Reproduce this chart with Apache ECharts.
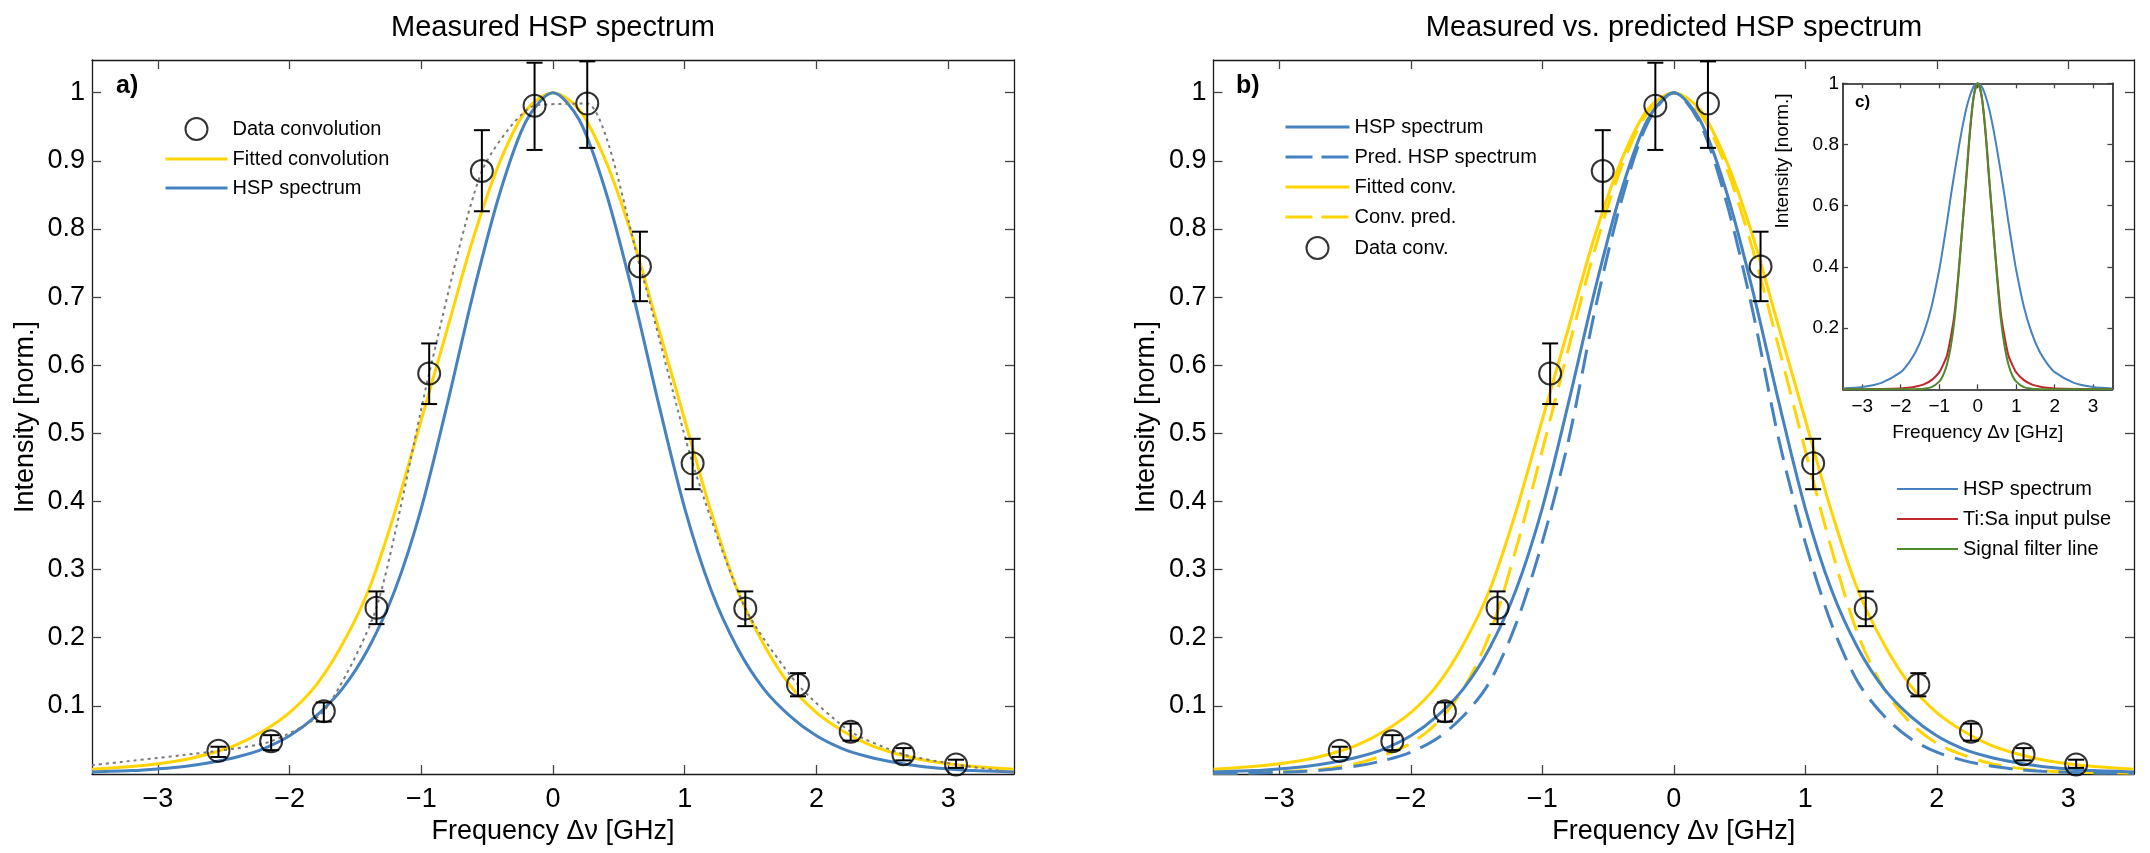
<!DOCTYPE html>
<html><head><meta charset="utf-8">
<script src="https://cdn.jsdelivr.net/npm/echarts@6/dist/echarts.min.js"></script>
<style>html,body{margin:0;padding:0;background:#fff}#c{width:2150px;height:853px}</style>
</head><body><div id="c"></div>
<script>
const FONT = '"Liberation Sans", Arial, Helvetica, sans-serif';

// ---- tick labels ----
const xTicks = [-3, -2, -1, 0, 1, 2, 3];
const yTicks = [0.1, 0.2, 0.3, 0.4, 0.5, 0.6, 0.7, 0.8, 0.9, 1];
const insetYTicks = [0.2, 0.4, 0.6, 0.8, 1];

// ---- measured data (convolution) ----
const dataX   = [-2.54, -2.14, -1.74, -1.34, -0.94, -0.54, -0.14, 0.26, 0.66, 1.06, 1.46, 1.86, 2.26, 2.66, 3.06];
const dataY   = [0.034, 0.048, 0.092, 0.244, 0.588, 0.885, 0.981, 0.984, 0.745, 0.456, 0.243, 0.131, 0.062, 0.029, 0.014];
const errLow  = [0.025, 0.035, 0.077, 0.220, 0.543, 0.826, 0.916, 0.919, 0.694, 0.418, 0.217, 0.114, 0.049, 0.020, 0.009];
const errHigh = [0.040, 0.057, 0.105, 0.268, 0.632, 0.945, 1.044, 1.046, 0.796, 0.492, 0.268, 0.148, 0.074, 0.038, 0.021];
// end points of the dotted interpolation
const dottedEndX = [-3.5, 3.5];
const dottedEndY = [0.013, 0.002];

// ---- model curves (main plots) ----
const curveX = [-3.5,-3.2,-3.0,-2.8,-2.6,-2.4,-2.2,-2.0,-1.8,-1.6,-1.4,-1.2,-1.0,-0.8,-0.6,-0.4,-0.2,0,0.2,0.4,0.6,0.8,1.0,1.2,1.4,1.6,1.8,2.0,2.2,2.4,2.6,2.8,3.0,3.2,3.5];
const hspSpectrum = [0.003,0.005,0.0075,0.011,0.017,0.025,0.037,0.056,0.085,0.125,0.185,0.27,0.39,0.545,0.71,0.855,0.96,1,0.96,0.855,0.71,0.545,0.39,0.27,0.185,0.125,0.085,0.056,0.037,0.025,0.017,0.011,0.0075,0.005,0.003];
const fittedConv  = [0.007,0.011,0.015,0.021,0.03,0.043,0.063,0.09,0.13,0.19,0.27,0.385,0.52,0.655,0.79,0.9,0.975,1,0.975,0.9,0.79,0.655,0.52,0.385,0.27,0.19,0.13,0.09,0.063,0.043,0.03,0.021,0.015,0.011,0.007];
const predHsp     = [0.001,0.0015,0.0025,0.004,0.007,0.012,0.02,0.032,0.052,0.085,0.135,0.22,0.34,0.49,0.68,0.84,0.955,1,0.955,0.84,0.68,0.49,0.34,0.22,0.135,0.085,0.052,0.032,0.02,0.012,0.007,0.004,0.0025,0.0015,0.001];
const convPred    = [0.001,0.002,0.003,0.005,0.009,0.016,0.028,0.045,0.075,0.125,0.205,0.33,0.475,0.625,0.77,0.89,0.97,1,0.97,0.89,0.77,0.625,0.475,0.33,0.205,0.125,0.075,0.045,0.028,0.016,0.009,0.005,0.003,0.002,0.001];

// ---- inset curves ----
const insetX = [-3.5,-3,-2.5,-2,-1.8,-1.6,-1.4,-1.2,-1,-0.9,-0.8,-0.7,-0.6,-0.5,-0.4,-0.3,-0.2,-0.1,0,0.1,0.2,0.3,0.4,0.5,0.6,0.7,0.8,0.9,1,1.2,1.4,1.6,1.8,2,2.5,3,3.5];
const insetHsp   = [0.003,0.0075,0.021,0.056,0.085,0.125,0.185,0.27,0.39,0.465,0.545,0.63,0.71,0.785,0.855,0.915,0.96,0.99,1,0.99,0.96,0.915,0.855,0.785,0.71,0.63,0.545,0.465,0.39,0.27,0.185,0.125,0.085,0.056,0.021,0.0075,0.003];
const tisaPulse  = [0,0.0005,0.001,0.003,0.005,0.009,0.016,0.03,0.055,0.08,0.11,0.17,0.25,0.38,0.53,0.68,0.84,0.96,1,0.96,0.84,0.68,0.53,0.38,0.25,0.17,0.11,0.08,0.055,0.03,0.016,0.009,0.005,0.003,0.001,0.0005,0];
const filterLine = [0,0,0,0,0,0.0005,0.002,0.007,0.025,0.045,0.08,0.14,0.23,0.37,0.53,0.69,0.85,0.96,1,0.96,0.85,0.69,0.53,0.37,0.23,0.14,0.08,0.045,0.025,0.007,0.002,0.0005,0,0,0,0,0];

// ---- colours ----
const BLUE = '#4682C0', YELLOW = '#FFD400', RED = '#C0272D', GREEN = '#4F8A2C', GRAY = '#7a7a7a';
const DASH = [24, 11];

const pairs = (xs, ys) => xs.map((x, i) => [x, ys[i]]);
const fmtX = v => String(v).replace('-', '\u2212');
const fmtY = v => String(Math.round(v * 10) / 10);

const mainGrids = [
  {left: 92, top: 60, width: 922, height: 714},
  {left: 1213.5, top: 60, width: 920.5, height: 714}
];
const insetGrid = {left: 1843, top: 83.3, width: 269.4, height: 306, show: true, backgroundColor: '#fff', borderWidth: 0};

function xAxes(gi, main) {
  const fs = main ? 27 : 19;
  const tl = main ? 9 : 5;
  const axisLine = {show: true, onZero: false, lineStyle: {color: '#1a1a1a', width: main ? 1.3 : 1.6}};
  const tick = {show: true, inside: true, length: tl, customValues: xTicks, lineStyle: {color: '#444', width: 1.3}};
  return [
    {type: 'value', gridIndex: gi, position: 'bottom', min: -3.5, max: 3.5, splitLine: {show: false},
     axisLine, axisTick: tick,
     axisLabel: {customValues: xTicks, formatter: fmtX, fontSize: fs, fontFamily: FONT, color: '#000', margin: main ? 12 : 8},
     name: 'Frequency \u0394\u03bd [GHz]', nameLocation: 'middle', nameGap: main ? 41 : 34,
     nameTextStyle: {fontSize: fs, fontFamily: FONT, color: '#000'}},
    {type: 'value', gridIndex: gi, position: 'top', min: -3.5, max: 3.5, splitLine: {show: false},
     axisLine, axisTick: tick, axisLabel: {show: false}}
  ];
}
function yAxes(gi, main) {
  const fs = main ? 27 : 19;
  const tl = main ? 9 : 5;
  const ticks = main ? yTicks : insetYTicks;
  const axisLine = {show: true, onZero: false, lineStyle: {color: '#1a1a1a', width: main ? 1.3 : 1.6}};
  const tick = {show: true, inside: true, length: tl, customValues: ticks, lineStyle: {color: '#444', width: 1.3}};
  const left = {type: 'value', gridIndex: gi, position: 'left', min: 0, max: main ? 1.048 : 1, splitLine: {show: false},
     axisLine, axisTick: tick,
     axisLabel: {customValues: ticks, formatter: fmtY, fontSize: fs, fontFamily: FONT, color: '#000', margin: main ? 7 : 4}};
  if (main) {
    left.name = 'Intensity [norm.]';
    left.nameLocation = 'middle';
    left.nameGap = 53;
    left.nameTextStyle = {fontSize: fs, fontFamily: FONT, color: '#000'};
  }
  return [
    left,
    {type: 'value', gridIndex: gi, position: 'right', min: 0, max: main ? 1.048 : 1, splitLine: {show: false},
     axisLine, axisTick: tick, axisLabel: {show: false}}
  ];
}

function renderErr(params, api) {
  const x = api.value(0), lo = api.value(1), hi = api.value(2);
  const a = api.coord([x, lo]), b = api.coord([x, hi]);
  const hw = 8, st = {stroke: '#000', lineWidth: 2};
  return {type: 'group', children: [
    {type: 'line', shape: {x1: a[0], y1: a[1], x2: b[0], y2: b[1]}, style: st},
    {type: 'line', shape: {x1: a[0] - hw, y1: a[1], x2: a[0] + hw, y2: a[1]}, style: st},
    {type: 'line', shape: {x1: b[0] - hw, y1: b[1], x2: b[0] + hw, y2: b[1]}, style: st}
  ]};
}
const errData = dataX.map((x, i) => [x, errLow[i], errHigh[i]]);

function lineSeries(name, xs, ys, color, width, type, xi, yi, z, smooth) {
  return {type: 'line', name, data: pairs(xs, ys), xAxisIndex: xi, yAxisIndex: yi,
    symbol: 'none', smooth: smooth == null ? 0.3 : smooth,
    lineStyle: {color, width, type: type || 'solid'},
    itemStyle: {color, opacity: 0, borderWidth: 0},
    z: z || 2, silent: true};
}
function errSeries(xi, yi) {
  return {type: 'custom', name: 'err' + xi, renderItem: renderErr, data: errData,
    encode: {x: 0, y: [1, 2]}, xAxisIndex: xi, yAxisIndex: yi, z: 5, silent: true};
}
function dataSeries(name, xi, yi) {
  return {type: 'scatter', name, data: pairs(dataX, dataY), xAxisIndex: xi, yAxisIndex: yi,
    symbol: 'circle', symbolSize: 22,
    itemStyle: {color: 'rgba(0,0,0,0)', borderColor: '#000', borderWidth: 2}, z: 6, silent: true};
}

const dottedX = [dottedEndX[0]].concat(dataX, [dottedEndX[1]]);
const dottedY = [dottedEndY[0]].concat(dataY, [dottedEndY[1]]);

const legendText = {fontSize: 20, fontFamily: FONT, color: '#000', lineHeight: 22};
const LEG_DASH = [27, 9];

const option = {
  animation: false,
  backgroundColor: '#fff',
  title: [
    {text: 'Measured HSP spectrum', left: 553, top: 13, textAlign: 'center', padding: 0,
     textStyle: {fontSize: 29, fontWeight: 'normal', fontFamily: FONT, color: '#000'}},
    {text: 'Measured vs. predicted HSP spectrum', left: 1674, top: 13, textAlign: 'center', padding: 0,
     textStyle: {fontSize: 29, fontWeight: 'normal', fontFamily: FONT, color: '#000'}},
    {text: 'a)', left: 116, top: 74, padding: 0, textStyle: {fontSize: 25, fontWeight: 'bold', fontFamily: FONT, color: '#000'}},
    {text: 'b)', left: 1236, top: 74, padding: 0, textStyle: {fontSize: 25, fontWeight: 'bold', fontFamily: FONT, color: '#000'}},
    {text: 'c)', left: 1855, top: 94, padding: 0, textStyle: {fontSize: 17, fontWeight: 'bold', fontFamily: FONT, color: '#000'}}
  ],
  graphic: [
    {type: 'text', x: 1783, y: 161, rotation: Math.PI / 2, silent: true,
     style: {text: 'Intensity [norm.]', fontSize: 19, fontFamily: FONT, fill: '#000', align: 'center', verticalAlign: 'middle'}}
  ],
  legend: [
    {data: ['Data convolution', 'Fitted convolution', 'HSP spectrum'], orient: 'vertical', left: 164, top: 117,
     itemWidth: 62, itemHeight: 22, itemGap: 7, selectedMode: false, textStyle: legendText, padding: 0,
     lineStyle: {width: 3}},
    {data: ['HSP spectrum', {name: 'Pred. HSP spectrum', lineStyle: {type: LEG_DASH, width: 3}}, 'Fitted conv.',
            {name: 'Conv. pred.', lineStyle: {type: LEG_DASH, width: 3}}, 'Data conv.'],
     orient: 'vertical', left: 1284, top: 116,
     itemWidth: 64, itemHeight: 22, itemGap: 8, selectedMode: false, textStyle: legendText, padding: 0,
     lineStyle: {width: 3}},
    {data: ['HSP spectrum', 'Ti:Sa input pulse', 'Signal filter line'], orient: 'vertical', left: 1896, top: 478,
     itemWidth: 61, itemHeight: 22, itemGap: 8, selectedMode: false, textStyle: legendText, padding: 0,
     lineStyle: {width: 2}}
  ],
  grid: [mainGrids[0], mainGrids[1], insetGrid],
  xAxis: [].concat(xAxes(0, true), xAxes(1, true), xAxes(2, false)),
  yAxis: [].concat(yAxes(0, true), yAxes(1, true), yAxes(2, false)),
  series: [
    // left panel
    lineSeries('Fitted convolution', curveX, fittedConv, YELLOW, 3, 'solid', 0, 0, 2),
    lineSeries('HSP spectrum', curveX, hspSpectrum, BLUE, 3, 'solid', 0, 0, 3),
    lineSeries('interp', dottedX, dottedY, GRAY, 2, [3, 4], 0, 0, 4, 0.22),
    errSeries(0, 0),
    dataSeries('Data convolution', 0, 0),
    // right panel
    lineSeries('Fitted conv.', curveX, fittedConv, YELLOW, 3, 'solid', 2, 2, 2),
    lineSeries('Conv. pred.', curveX, convPred, YELLOW, 3, DASH, 2, 2, 2),
    lineSeries('HSP spectrum', curveX, hspSpectrum, BLUE, 3, 'solid', 2, 2, 3),
    lineSeries('Pred. HSP spectrum', curveX, predHsp, BLUE, 3, DASH, 2, 2, 3),
    errSeries(2, 2),
    dataSeries('Data conv.', 2, 2),
    // inset
    lineSeries('HSP spectrum', insetX, insetHsp, BLUE, 2, 'solid', 4, 4, 10),
    lineSeries('Ti:Sa input pulse', insetX, tisaPulse, RED, 2, 'solid', 4, 4, 10),
    lineSeries('Signal filter line', insetX, filterLine, GREEN, 2, 'solid', 4, 4, 11)
  ]
};

const chart = echarts.init(document.getElementById('c'), null, {renderer: 'canvas'});
chart.setOption(option);
</script>
</body></html>
